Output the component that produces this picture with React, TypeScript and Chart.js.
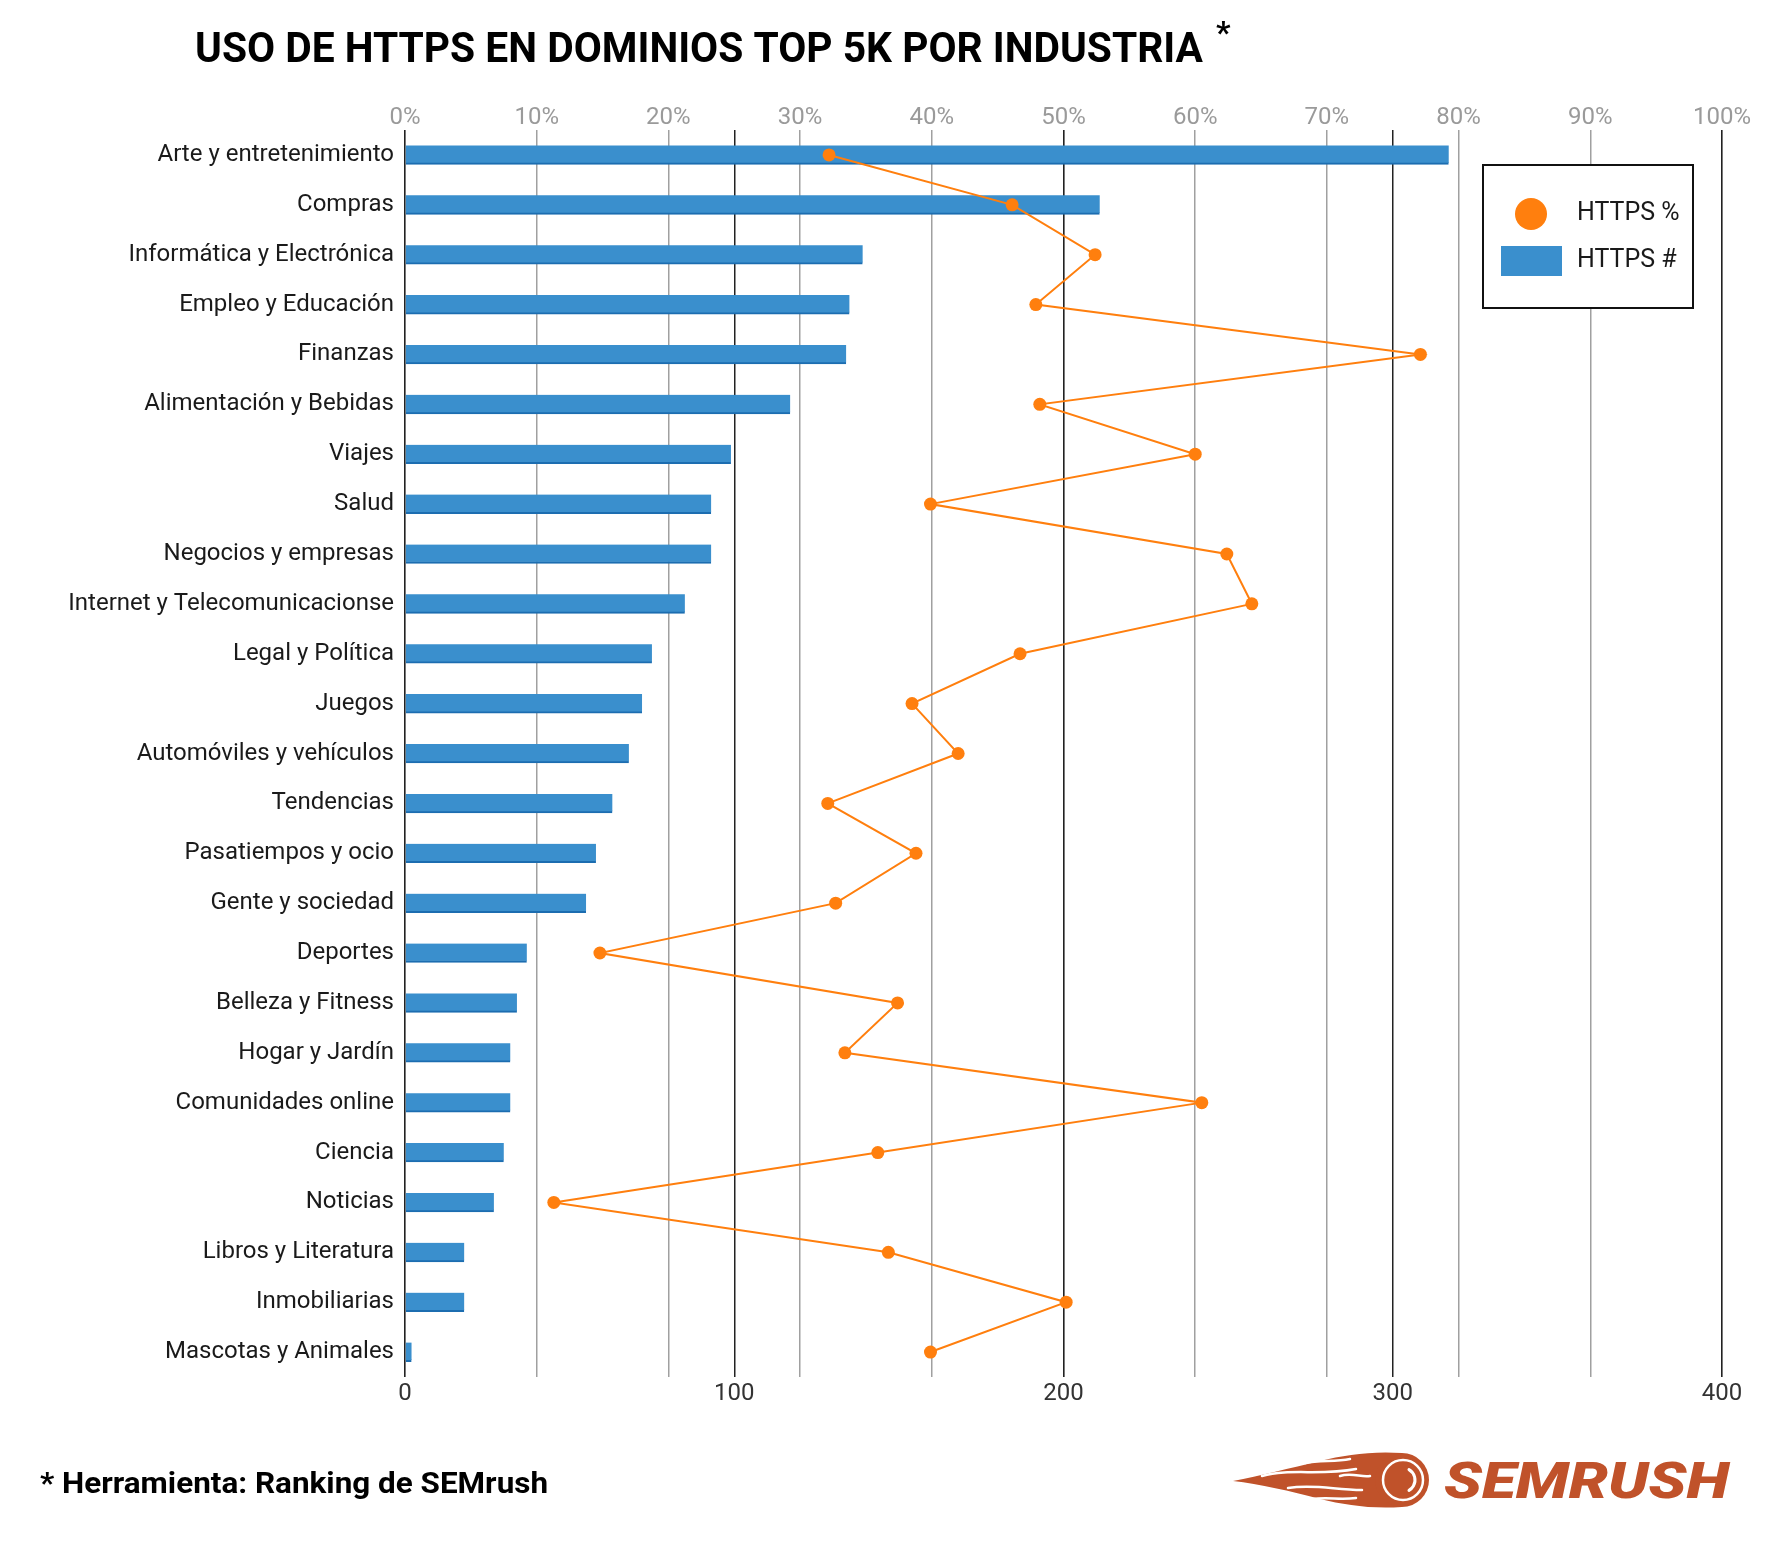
import React, { useEffect, useRef } from 'react';
import { Chart, registerables } from 'chart.js';

Chart.register(...registerables);

const TITLE = 'USO DE HTTPS EN DOMINIOS TOP 5K POR INDUSTRIA';
const FOOTER = '* Herramienta: Ranking de SEMrush';
const LOGO_TEXT = 'SEMRUSH';

const categories = [
  'Arte y entretenimiento',
  'Compras',
  'Informática y Electrónica',
  'Empleo y Educación',
  'Finanzas',
  'Alimentación y Bebidas',
  'Viajes',
  'Salud',
  'Negocios y empresas',
  'Internet y Telecomunicacionse',
  'Legal y Política',
  'Juegos',
  'Automóviles y vehículos',
  'Tendencias',
  'Pasatiempos y ocio',
  'Gente y sociedad',
  'Deportes',
  'Belleza y Fitness',
  'Hogar y Jardín',
  'Comunidades online',
  'Ciencia',
  'Noticias',
  'Libros y Literatura',
  'Inmobiliarias',
  'Mascotas y Animales',
];

const httpsCount = [317, 211, 139, 135, 134, 117, 99, 93, 93, 85, 75, 72, 68, 63, 58, 55, 37, 34, 32, 32, 30, 27, 18, 18, 2];

const httpsPercent = [32.2, 46.1, 52.4, 47.9, 77.1, 48.2, 60.0, 39.9, 62.4, 64.3, 46.7, 38.5, 42.0, 32.1, 38.8, 32.7, 14.8, 37.4, 33.4, 60.5, 35.9, 11.3, 36.7, 50.2, 39.9];

const countTicks = [0, 100, 200, 300, 400];
const percentTicks = [0, 10, 20, 30, 40, 50, 60, 70, 80, 90, 100];

const ORANGE = '#ff7f0e';
const BLUE = '#3a8fcd';
const BLUE_DARK = '#1c6db0';
const LOGO = '#c0522a';

function drawScaledText(ctx: CanvasRenderingContext2D, text: string, x: number, y: number, targetW: number, font: string, color: string) {
  ctx.save();
  ctx.font = font;
  ctx.fillStyle = color;
  ctx.textAlign = 'left';
  ctx.textBaseline = 'alphabetic';
  const w = ctx.measureText(text).width;
  ctx.translate(x, y);
  ctx.scale(targetW / w, 1);
  ctx.fillText(text, 0, 0);
  ctx.restore();
}

function drawLogo(ctx: CanvasRenderingContext2D) {
  ctx.save();
  ctx.fillStyle = LOGO;
  // flame body
  ctx.beginPath();
  ctx.moveTo(1402, 1453);
  ctx.bezierCurveTo(1370, 1451, 1345, 1455, 1320, 1461);
  ctx.bezierCurveTo(1290, 1468, 1260, 1476, 1233, 1481);
  ctx.bezierCurveTo(1260, 1484, 1290, 1491, 1320, 1499);
  ctx.bezierCurveTo(1345, 1505, 1370, 1509, 1402, 1507);
  ctx.closePath();
  ctx.fill();
  // white separations between tongues
  ctx.strokeStyle = '#ffffff';
  ctx.lineWidth = 2.5;
  ctx.lineCap = 'round';
  const lines: number[][] = [
    [1262, 1476, 1290, 1468, 1320, 1476, 1356, 1469],
    [1288, 1488, 1315, 1484, 1335, 1490, 1362, 1490],
    [1305, 1463, 1320, 1460, 1335, 1462, 1350, 1459],
    [1312, 1499, 1328, 1497, 1340, 1500, 1356, 1498],
    [1340, 1476, 1352, 1472, 1362, 1478, 1370, 1476],
  ];
  lines.forEach((l) => {
    ctx.beginPath();
    ctx.moveTo(l[0], l[1]);
    ctx.bezierCurveTo(l[2], l[3], l[4], l[5], l[6], l[7]);
    ctx.stroke();
  });
  // ball
  ctx.fillStyle = LOGO;
  ctx.beginPath();
  ctx.arc(1402, 1480, 27, 0, Math.PI * 2);
  ctx.fill();
  ctx.strokeStyle = '#ffffff';
  ctx.lineWidth = 2.5;
  ctx.beginPath();
  ctx.arc(1403, 1480, 20, 0, Math.PI * 2);
  ctx.stroke();
  ctx.lineWidth = 3;
  ctx.beginPath();
  ctx.arc(1403, 1480, 12, -Math.PI / 3, Math.PI / 3);
  ctx.stroke();
  ctx.restore();
  // text
  drawScaledText(ctx, LOGO_TEXT, 1444, 1498, 285, 'italic 900 50px Roboto', LOGO);
}

const decorPlugin = {
  id: 'decor',
  afterDraw(chart: any) {
    const ctx: CanvasRenderingContext2D = chart.ctx;
    // title
    drawScaledText(ctx, TITLE, 195, 62, 1008, 'bold 42px Roboto', '#000000');
    ctx.save();
    ctx.font = 'bold 32px Roboto';
    ctx.fillStyle = '#000000';
    ctx.textBaseline = 'alphabetic';
    ctx.fillText('*', 1216, 43);
    ctx.restore();
    // footer
    drawScaledText(ctx, FOOTER, 40, 1493, 508, 'bold 30px Roboto', '#000000');
    // legend
    const ds = chart.data.datasets;
    ctx.save();
    ctx.fillStyle = '#ffffff';
    ctx.fillRect(1483, 165, 210, 143);
    ctx.strokeStyle = '#111111';
    ctx.lineWidth = 2;
    ctx.strokeRect(1483, 165, 210, 143);
    ctx.fillStyle = ds[0].borderColor;
    ctx.beginPath();
    ctx.arc(1531, 214, 16, 0, Math.PI * 2);
    ctx.fill();
    ctx.fillStyle = ds[1].backgroundColor;
    ctx.fillRect(1501, 246, 61, 30);
    ctx.fillStyle = '#1a1a1a';
    ctx.font = '25px Roboto';
    ctx.textBaseline = 'middle';
    ctx.textAlign = 'left';
    ctx.fillText(ds[0].label, 1577, 214);
    ctx.fillText(ds[1].label, 1577, 261);
    ctx.restore();
    drawLogo(ctx);
  },
};

export default function App() {
  const canvasRef = useRef<HTMLCanvasElement | null>(null);

  useEffect(() => {
    if (!canvasRef.current) return;
    const chart = new Chart(canvasRef.current, {
      type: 'bar',
      data: {
        labels: categories,
        datasets: [
          {
            type: 'line',
            label: 'HTTPS %',
            data: httpsPercent,
            indexAxis: 'y',
            xAxisID: 'x2',
            yAxisID: 'y',
            borderColor: ORANGE,
            backgroundColor: ORANGE,
            borderWidth: 2,
            pointRadius: 6.5,
            pointHoverRadius: 6.5,
            pointBorderWidth: 0,
            pointBackgroundColor: ORANGE,
            tension: 0,
            fill: false,
            order: 0,
          } as any,
          {
            type: 'bar',
            label: 'HTTPS #',
            data: httpsCount,
            xAxisID: 'x',
            yAxisID: 'y',
            backgroundColor: BLUE,
            borderColor: BLUE_DARK,
            borderWidth: { top: 0, right: 0, bottom: 2, left: 0 },
            borderSkipped: false,
            barThickness: 19,
            order: 1,
          } as any,
        ],
      },
      options: {
        indexAxis: 'y',
        responsive: false,
        animation: false,
        layout: { padding: { left: 0, right: 58, top: 0, bottom: 0 } },
        plugins: {
          legend: { display: false },
          tooltip: { enabled: false },
          title: { display: false },
        },
        scales: {
          y: {
            type: 'category',
            position: 'left',
            offset: true,
            grid: { display: false, drawTicks: false },
            border: { display: false },
            ticks: { color: '#1a1a1a', font: { family: 'Roboto', size: 24 }, padding: 11 },
            afterFit: (s: any) => { s.width = 405; },
          },
          x: {
            type: 'linear',
            position: 'bottom',
            min: countTicks[0],
            max: countTicks[countTicks.length - 1],
            afterBuildTicks: (s: any) => { s.ticks = countTicks.map((v) => ({ value: v })); },
            ticks: { color: '#333333', font: { family: 'Roboto', size: 24 }, padding: 3 },
            grid: { color: '#222222', lineWidth: 1.5, drawTicks: false, z: -1 },
            border: { display: false },
            afterFit: (s: any) => { s.height = 174; },
          },
          x2: {
            type: 'linear',
            position: 'top',
            min: percentTicks[0],
            max: percentTicks[percentTicks.length - 1],
            afterBuildTicks: (s: any) => { s.ticks = percentTicks.map((v) => ({ value: v })); },
            ticks: {
              color: '#9a9a9a',
              font: { family: 'Roboto', size: 24 },
              padding: -2,
              callback: (v: any) => v + '%',
            },
            grid: { color: '#a0a0a0', lineWidth: 1.5, drawTicks: false, z: -2 },
            border: { display: false },
            afterFit: (s: any) => { s.height = 130; },
          },
        } as any,
      },
      plugins: [decorPlugin],
    } as any);
    return () => chart.destroy();
  }, []);

  return (
    <div style={{ position: 'absolute', left: 0, top: 0, width: 1780, height: 1551, background: '#ffffff' }}>
      <canvas ref={canvasRef} width={1780} height={1551} style={{ display: 'block' }} />
    </div>
  );
}
